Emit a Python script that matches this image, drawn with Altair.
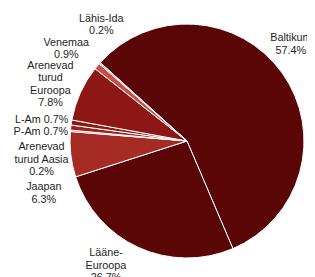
import math
import altair as alt
import pandas as pd

# ---- data ----
regions = ["Baltikum", "Lääne-Euroopa", "Jaapan", "Arenevad turud Aasia",
           "P-Am", "L-Am", "Arenevad turud Euroopa", "Venemaa", "Lähis-Ida"]
shares = [57.4, 26.7, 6.3, 0.2, 0.7, 0.7, 7.8, 0.9, 0.2]
label_lines = [
    ["Baltikum", "57.4%"],
    ["Lääne-", "Euroopa", "26.7%"],
    ["Jaapan", "6.3%"],
    ["Arenevad", "turud Aasia", "0.2%"],
    ["P-Am 0.7%"],
    ["L-Am 0.7%"],
    ["Arenevad", "turud", "Euroopa", "7.8%"],
    ["Venemaa", "0.9%"],
    ["Lähis-Ida", "0.2%"],
]

# ---- style / layout ----
colors = ["#5a0606", "#5a0606", "#a62b25", "#c44a44", "#9e211c",
          "#8e1814", "#8c1714", "#c9504a", "#d8a8a8"]
CX, CY = 179, 133          # pie centre inside the plot area
R = 117                    # pie radius
LR = 135                   # label anchor radius
LH = 12.4                  # label line height
START_DEG = 312.1          # clockwise from 12 o'clock
label_dx = [-6, -25, -9, -11, -12, -12, -13.5, -17, 15]
label_dy = [-18, 2, 37, 30.5, 7, 0, -1, -5.5, -26]

total = sum(shares)
rows = []
cum = 0.0
for i, (name, v) in enumerate(zip(regions, shares)):
    mid = math.radians(START_DEG + (cum + v / 2) / total * 360)
    cum += v
    n = len(label_lines[i])
    rows.append({
        "region": name,
        "share": v,
        "order": i,
        "label": label_lines[i],
        "lx": CX + LR * math.sin(mid) + label_dx[i],
        "ly": CY - LR * math.cos(mid) + label_dy[i] - (n - 1) * LH / 2,
    })
df = pd.DataFrame(rows)

start = math.radians(START_DEG)
base = alt.Chart(df)

pie = base.mark_arc(outerRadius=R, stroke="white", strokeWidth=1).encode(
    theta=alt.Theta("share:Q", stack=True,
                    scale=alt.Scale(range=[start, start + 2 * math.pi])),
    order=alt.Order("order:Q"),
    color=alt.Color("region:N", scale=alt.Scale(domain=regions, range=colors),
                    legend=None),
    x=alt.value(CX),
    y=alt.value(CY),
)

labels = base.mark_text(font="Liberation Sans", fontSize=10.8, lineHeight=LH,
                        align="center", baseline="middle", color="#1e1e1e").encode(
    x=alt.X("lx:Q", scale=None),
    y=alt.Y("ly:Q", scale=None),
    text="label",
)

chart = alt.layer(pie, labels).properties(
    width=299, height=269, padding=0, autosize="none"
).configure_view(stroke=None)

chart.save("out.html", embed_options={"renderer": "svg", "actions": False})
